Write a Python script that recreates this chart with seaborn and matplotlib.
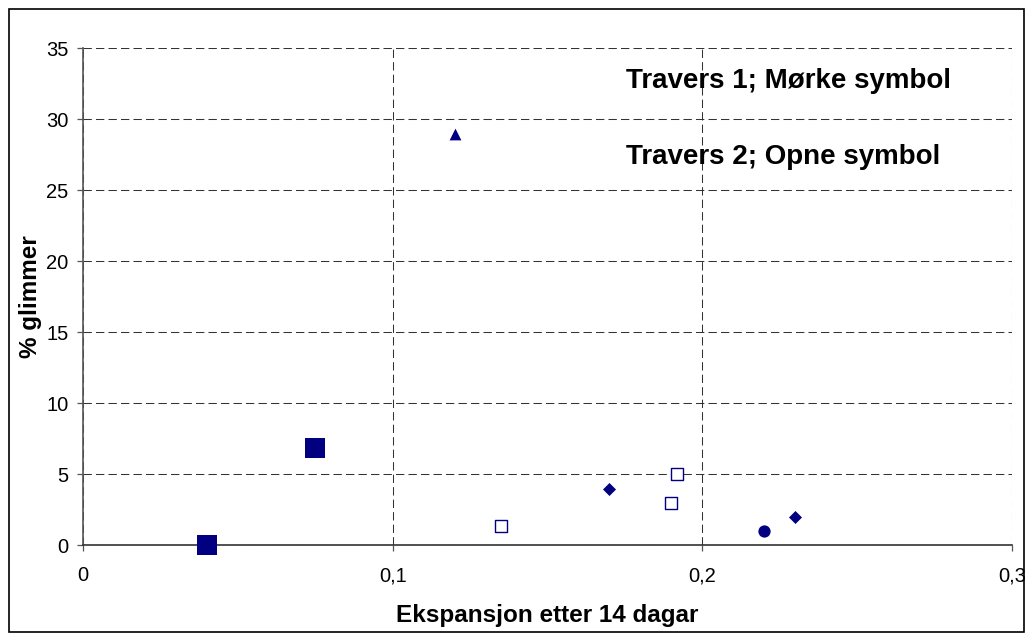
import matplotlib
matplotlib.use("Agg")
import matplotlib.pyplot as plt
import seaborn as sns
import pandas as pd
from matplotlib.patches import Rectangle

# Data
big_sq_x = [0.04, 0.075]
big_sq_y = [0.0, 6.85]
tri_x = [0.12]
tri_y = [29.0]
open_sq_x = [0.135, 0.19, 0.192]
open_sq_y = [1.4, 3.0, 5.0]
diamond_x = [0.17, 0.23]
diamond_y = [4.0, 2.0]
circle_x = [0.22]
circle_y = [1.0]

x_ticks = [0, 0.1, 0.2, 0.3]
x_tick_labels = ["0", "0,1", "0,2", "0,3"]
y_ticks = [0, 5, 10, 15, 20, 25, 30, 35]

sns.set_theme(style="white")
plt.rcParams['font.family'] = ['Liberation Sans', 'DejaVu Sans']
plt.rcParams['text.color'] = 'black'
plt.rcParams['axes.labelcolor'] = 'black'

navy = "#000080"
fig = plt.figure(figsize=(10.33, 6.41), dpi=100)
ax = fig.add_axes([0.0806, 0.1490, 0.8988, 0.7756])

def df(x, y):
    return pd.DataFrame({"x": x, "y": y})

sns.scatterplot(data=df(big_sq_x, big_sq_y), x="x", y="y", marker="s", s=190,
                color=navy, edgecolor=navy, linewidth=0, ax=ax, zorder=3, clip_on=False)
sns.scatterplot(data=df(tri_x, tri_y), x="x", y="y", marker="^", s=72,
                color=navy, edgecolor=navy, linewidth=0, ax=ax, zorder=3)
sns.scatterplot(data=df(open_sq_x, open_sq_y), x="x", y="y", marker="s", s=76,
                facecolor="white", edgecolor=navy, linewidth=1.0, ax=ax, zorder=3)
sns.scatterplot(data=df(diamond_x, diamond_y), x="x", y="y", marker="D", s=44,
                color=navy, edgecolor=navy, linewidth=0, ax=ax, zorder=3)
sns.scatterplot(data=df(circle_x, circle_y), x="x", y="y", marker="o", s=78,
                color=navy, edgecolor=navy, linewidth=0, ax=ax, zorder=3)

ax.set_xlim(0, 0.3)
ax.set_ylim(0, 35)
ax.set_xticks(x_ticks)
ax.set_xticklabels(x_tick_labels)
ax.set_yticks(y_ticks)
ax.set_yticklabels([str(v) for v in y_ticks])
ax.tick_params(axis="both", bottom=True, left=True, labelsize=14.5,
               labelcolor="black", color="#555555", length=4.3, width=0.9,
               direction="out")
ax.tick_params(axis="x", pad=10.5)
ax.tick_params(axis="y", pad=6.5)

ax.grid(True, color="#333333", linestyle=(0, (8, 4)), linewidth=0.75)
ax.set_axisbelow(True)
for side in ["top", "right"]:
    ax.spines[side].set_visible(False)
ax.spines["left"].set_color("#555555")
ax.spines["bottom"].set_color("#333333")
ax.spines["left"].set_linewidth(1.2)
ax.spines["bottom"].set_linewidth(1.2)

ax.set_xlabel("Ekspansjon etter 14 dagar", fontsize=17.5, fontweight="bold",
              labelpad=14, color="black")
ax.set_ylabel("% glimmer", fontsize=17.5, fontweight="bold", color="black")
ax.yaxis.set_label_coords(-0.0445, 0.5)

ax.text(0.935, 0.935, "Travers 1; Mørke symbol", transform=ax.transAxes,
        fontsize=20, fontweight="bold", ha="right", va="center", color="black")
ax.text(0.923, 0.782, "Travers 2; Opne symbol", transform=ax.transAxes,
        fontsize=20, fontweight="bold", ha="right", va="center", color="black")

fig.patches.append(Rectangle((9/1033, 1 - 632/641), (1024-9)/1033, (632-9)/641,
                             transform=fig.transFigure, fill=False,
                             edgecolor="black", linewidth=1.2))

fig.savefig("out.png", dpi=100, facecolor="white")
